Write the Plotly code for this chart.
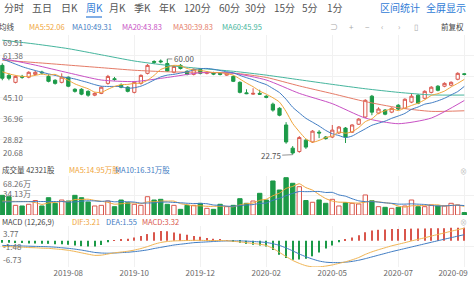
import plotly.graph_objects as go

W, H = 474, 285

# ---------------- data ----------------
idx = list(range(71))  # weekly candles

opens = [57.5, 53.6, 50.9, 53.2, 52.9, 54.0, 54.9, 53.2, 51.7, 50.9,
         52.9, 48.2, 48.2, 47.4, 45.9, 46.6, 50.5, 52.3, 49.8, 49.0,
         47.0, 50.5, 54.4, 59.0, 59.2, 58.2, 54.8, 57.5, 55.2, 54.0,
         55.9, 54.4, 54.6, 54.4, 53.7, 53.2, 50.9, 46.8, 46.3, 46.6,
         45.5, 42.4, 40.8, 34.3, 25.3, 24.0, 28.4, 27.7, 31.5, 29.6,
         29.6, 31.2, 33.1, 31.5, 34.6, 37.4, 45.5, 38.9, 40.1, 39.3,
         42.0, 40.8, 43.2, 45.9, 44.7, 47.0, 49.4, 49.4, 49.8, 52.1,
         54.2]
highs = [58.3, 54.4, 53.6, 53.8, 55.2, 55.4, 55.4, 54.0, 52.1, 54.4,
         53.2, 48.6, 48.6, 47.8, 47.0, 49.4, 53.8, 53.0, 50.5, 49.4,
         51.3, 54.0, 58.0, 59.5, 59.8, 60.0, 57.5, 58.0, 55.6, 56.3,
         56.3, 55.2, 55.0, 54.8, 54.8, 53.6, 51.3, 48.2, 48.6, 48.0,
         45.9, 43.0, 41.2, 35.4, 26.1, 30.0, 28.8, 32.3, 32.3, 30.0,
         34.3, 33.9, 33.5, 34.6, 37.0, 44.3, 46.0, 41.2, 40.5, 41.2,
         42.4, 44.7, 46.6, 46.3, 47.8, 49.4, 49.8, 50.9, 51.3, 54.8,
         54.4]
lows = [51.7, 51.7, 50.5, 52.3, 52.5, 53.6, 54.0, 50.9, 50.0, 50.5,
        49.0, 46.9, 45.9, 45.3, 45.5, 46.3, 50.0, 51.5, 48.6, 47.0,
        46.6, 50.0, 54.0, 58.0, 58.3, 55.0, 54.4, 55.9, 53.6, 53.6,
        54.0, 54.0, 53.7, 53.6, 53.4, 51.0, 46.6, 46.3, 46.0, 46.0,
        44.7, 39.5, 37.7, 27.0, 22.75, 23.5, 25.0, 27.3, 29.2, 28.6,
        29.2, 30.8, 27.3, 31.2, 34.3, 37.0, 38.1, 38.5, 38.1, 38.9,
        40.1, 40.5, 42.8, 42.4, 44.3, 46.6, 47.4, 49.0, 49.4, 51.7,
        53.6]
closes = [52.5, 52.5, 53.2, 52.9, 54.8, 54.8, 54.6, 51.3, 50.5, 52.9,
          49.4, 47.4, 46.3, 45.9, 46.6, 49.0, 53.2, 52.0, 49.0, 47.4,
          50.9, 53.6, 57.5, 58.7, 58.9, 55.3, 57.1, 56.3, 54.0, 56.0,
          54.4, 54.8, 54.1, 54.0, 54.4, 51.3, 47.0, 46.5, 46.6, 46.3,
          45.1, 40.1, 38.1, 27.7, 23.4, 29.4, 25.7, 31.9, 31.2, 29.0,
          32.3, 33.5, 29.6, 34.3, 36.6, 43.9, 39.3, 40.5, 38.5, 40.8,
          40.5, 44.3, 45.5, 42.8, 47.4, 49.0, 47.8, 50.5, 50.9, 54.4,
          54.0]

ma5 = [55.0, 54.2, 53.6, 53.2, 53.2, 53.6, 54.1, 53.7, 54.0, 52.8,
       51.7, 50.3, 49.3, 48.4, 47.1, 47.0, 48.2, 49.3, 50.0, 50.1,
       50.5, 50.6, 51.7, 53.6, 55.9, 56.8, 57.5, 57.3, 56.3, 55.7,
       55.6, 55.1, 54.7, 54.7, 54.3, 53.7, 52.2, 50.6, 49.2, 47.5,
       46.3, 44.9, 43.2, 39.5, 34.9, 31.7, 28.9, 27.6, 28.3, 29.4,
       30.0, 31.6, 31.1, 31.7, 33.3, 35.6, 36.7, 38.9, 39.8, 40.6,
       39.9, 40.9, 41.9, 42.8, 44.1, 45.8, 46.5, 47.5, 49.1, 50.5,
       52.06]
ma10 = [60.0, 59.0, 58.0, 57.0, 56.2, 55.5, 54.8, 54.2, 53.6, 53.0,
        52.7, 52.2, 51.5, 50.8, 50.0, 49.4, 49.3, 49.3, 49.2, 48.6,
        48.8, 49.4, 50.5, 51.8, 53.0, 53.7, 54.0, 54.5, 55.0, 55.8,
        56.2, 56.3, 56.0, 55.5, 55.0, 54.6, 53.6, 52.7, 51.9, 50.9,
        50.0, 48.5, 46.9, 44.3, 41.2, 39.0, 36.9, 35.4, 33.9, 32.2,
        30.9, 30.2, 29.4, 30.0, 31.4, 32.8, 34.2, 35.0, 35.8, 36.9,
        37.8, 38.8, 40.4, 41.3, 42.4, 42.9, 43.7, 44.7, 46.0, 47.3,
        49.31]

slow_idx = list(range(0, 71, 5))
ma20 = [60.2, 57.6, 54.6, 51.8, 51.2, 52.8, 54.6, 54.4, 51.8, 46.6,
        42.6, 37.0, 34.8, 37.0, 43.83]
ma30 = [59.5, 58.6, 57.6, 56.6, 55.6, 55.0, 54.8, 54.5, 52.8, 49.5,
        46.5, 43.4, 41.0, 39.6, 39.83]
ma60 = [67.3, 65.8, 64.0, 61.6, 59.2, 57.5, 56.3, 55.2, 53.7, 51.9,
        50.1, 48.4, 47.0, 46.0, 45.95]

volume = [34.0, 31.6, 16.7, 15.6, 18.5, 25.0, 15.6, 29.9, 20.2, 25.9,
          24.2, 34.0, 29.9, 22.5, 15.6, 16.7, 24.2, 14.4, 25.9, 21.3,
          18.5, 16.7, 31.6, 25.9, 27.1, 18.5, 16.7, 9.8, 16.7, 16.7,
          20.2, 11.5, 9.8, 18.5, 14.4, 16.7, 28.2, 20.2, 24.2, 37.5,
          25.9, 58.8, 43.2, 64.5, 54.8, 48.9, 25.0, 22.0, 26.0, 20.2,
          27.1, 15.6, 21.3, 20.2, 19.0, 34.6, 24.7, 14.4, 13.3, 11.5,
          13.3, 15.6, 25.9, 14.4, 14.4, 17.3, 15.6, 15.6, 20.2, 17.3,
          4.23]
vol_ma5 = [24.0, 23.8, 23.5, 23.4, 23.3, 21.5, 18.3, 20.9, 21.8, 23.3,
           23.2, 26.8, 26.8, 27.3, 25.2, 23.7, 21.8, 18.7, 19.4, 20.5,
           20.9, 19.4, 22.8, 22.8, 24.0, 24.0, 24.0, 19.6, 17.8, 15.7,
           16.0, 15.0, 15.0, 15.3, 14.9, 14.2, 17.5, 19.6, 20.7, 25.4,
           27.2, 33.3, 37.9, 46.0, 49.4, 54.0, 47.3, 43.0, 35.3, 28.4,
           24.1, 22.2, 22.0, 20.9, 20.6, 22.1, 24.0, 22.6, 21.2, 19.7,
           15.4, 13.6, 15.9, 16.1, 16.7, 17.5, 17.5, 15.5, 16.6, 17.2,
           14.95]
vol_ma10 = [22.5, 22.7, 22.9, 23.0, 23.1, 23.2, 23.3, 23.3, 23.3, 23.3,
            22.3, 22.6, 23.9, 24.6, 24.3, 23.5, 24.3, 22.8, 23.3, 22.9,
            22.3, 20.6, 20.7, 21.1, 22.2, 22.4, 21.7, 21.2, 20.3, 19.8,
            20.0, 19.5, 17.3, 16.6, 15.3, 15.1, 16.3, 17.3, 18.0, 20.1,
            20.7, 25.4, 28.8, 33.4, 37.4, 40.6, 40.3, 40.5, 40.7, 38.9,
            39.1, 34.7, 32.5, 28.1, 24.5, 23.1, 23.1, 22.3, 21.0, 20.2,
            18.8, 18.8, 19.3, 18.7, 18.2, 16.5, 15.6, 15.7, 16.4, 17.0,
            16.31]

macd_hist = [-0.5, -0.5, -0.6, -0.6, -0.7, -0.7, -0.8, -0.8, -0.9, -0.9,
             -1.0, -1.2, -1.4, -1.5, -1.5, -1.1, -0.4, 0.1, 0.3, 0.5,
             0.8, 1.2, 1.7, 2.2, 2.5, 2.4, 2.1, 1.8, 1.5, 1.2,
             1.0, 0.7, 0.5, 0.3, 0.1, -0.2, -0.5, -0.8, -1.0, -1.2,
             -1.5, -2.4, -3.6, -4.4, -4.9, -4.8, -4.6, -4.0, -3.0, -2.0,
             -1.2, -0.4, 0.2, 0.8, 1.4, 2.2, 2.6, 2.8, 2.9, 3.0,
             3.0, 3.0, 3.1, 3.1, 3.1, 3.2, 3.2, 3.2, 3.3, 3.3,
             3.32]
dea = [-1.2, -1.25, -1.3, -1.35, -1.4, -1.45, -1.5, -1.55, -1.65, -1.8,
       -1.95, -2.15, -2.4, -2.7, -3.0, -3.15, -3.2, -3.15, -3.05, -2.95,
       -2.8, -2.6, -2.35, -2.0, -1.7, -1.4, -1.1, -0.9, -0.7, -0.5,
       -0.4, -0.3, -0.2, -0.1, -0.05, -0.05, -0.05, -0.1, -0.2, -0.3,
       -0.45, -0.75, -1.2, -1.85, -2.6, -3.4, -4.1, -4.7, -5.2, -5.5,
       -5.6, -5.6, -5.5, -5.3, -5.0, -4.6, -4.15, -3.7, -3.25, -2.8,
       -2.4, -2.0, -1.6, -1.2, -0.8, -0.4, 0.0, 0.4, 0.78, 1.17,
       1.55]
dif = [-1.45, -1.5, -1.6, -1.65, -1.75, -1.8, -1.9, -1.95, -2.1, -2.25,
       -2.45, -2.75, -3.1, -3.45, -3.75, -3.7, -3.4, -3.1, -2.9, -2.7,
       -2.4, -2.0, -1.5, -0.9, -0.45, -0.2, -0.05, 0.0, 0.05, 0.1,
       0.1, 0.05, 0.05, 0.05, 0.0, -0.15, -0.3, -0.5, -0.7, -0.9,
       -1.2, -1.95, -3.0, -4.05, -5.05, -5.8, -6.4, -6.7, -6.7, -6.5,
       -6.2, -5.8, -5.4, -4.9, -4.3, -3.5, -2.85, -2.3, -1.8, -1.3,
       -0.9, -0.5, -0.05, 0.35, 0.75, 1.2, 1.6, 2.0, 2.43, 2.82,
       3.21]

x_tick_idx = [10, 20, 30, 40, 50, 60, 70]
x_tick_text = ["2019-08", "2019-10", "2019-12", "2020-02", "2020-05", "2020-07", "2020-09"]
price_ticks = [69.51, 61.38, 53.24, 45.10, 36.96, 28.82, 20.68]
price_tick_text = ["69.51", "61.38", "", "45.10", "36.96", "28.82", "20.68"]
vol_ticks = [68.26, 34.13]
vol_tick_text = ["68.26万", "34.13万"]
macd_ticks = [3.77, -1.48, -6.73]
macd_tick_text = ["3.77", "-1.48", "-6.73"]

tabs = ["分时", "五日", "日K", "周K", "月K", "季K", "年K", "120分", "60分", "30分", "15分", "5分", "1分"]
ma_labels = ["MA5:52.06", "MA10:49.31", "MA20:43.83", "MA30:39.83", "MA60:45.95"]

# ---------------- styling ----------------
FONT = "Noto Sans CJK SC, Noto Sans, sans-serif"
RED = "#d9564c"
GREEN = "#1c9a48"
C_MA5 = "#f0a53a"
C_MA10 = "#3f7cc3"
C_MA20 = "#c850c4"
C_MA30 = "#e57b67"
C_MA60 = "#45b59d"
BLUE_UI = "#2f7bd6"
GRID = "#f1f1f1"
LABEL = "#6a6a6a"


def px(x):
    return x / W


def py(y):
    return 1 - y / H


fig = go.Figure()

# price panel
fig.add_trace(go.Candlestick(
    x=idx, open=opens, high=highs, low=lows, close=closes,
    increasing=dict(line=dict(color=RED, width=1), fillcolor="white"),
    decreasing=dict(line=dict(color=GREEN, width=1), fillcolor=GREEN),
    whiskerwidth=0, xaxis="x", yaxis="y", hoverinfo="skip", showlegend=False))

for series, xs, color in [(ma60, slow_idx, C_MA60),
                          (ma30, slow_idx, C_MA30),
                          (ma20, slow_idx, C_MA20),
                          (ma10, idx, C_MA10),
                          (ma5, idx, C_MA5)]:
    fig.add_trace(go.Scatter(x=xs, y=series, mode="lines",
                             line=dict(color=color, width=1, shape="spline", smoothing=0.6),
                             xaxis="x", yaxis="y", hoverinfo="skip", showlegend=False))

# volume panel
up = [c >= o for o, c in zip(opens, closes)]
fig.add_trace(go.Bar(
    x=idx, y=volume, width=0.66,
    marker=dict(color=["white" if u else GREEN for u in up],
                line=dict(color=[RED if u else GREEN for u in up], width=1)),
    xaxis="x", yaxis="y2", hoverinfo="skip", showlegend=False))
fig.add_trace(go.Scatter(x=idx, y=vol_ma5, mode="lines",
                         line=dict(color=C_MA5, width=1, shape="spline", smoothing=0.5),
                         xaxis="x", yaxis="y2", hoverinfo="skip", showlegend=False))
fig.add_trace(go.Scatter(x=idx, y=vol_ma10, mode="lines",
                         line=dict(color=C_MA10, width=1, shape="spline", smoothing=0.5),
                         xaxis="x", yaxis="y2", hoverinfo="skip", showlegend=False))

# MACD panel
fig.add_trace(go.Bar(
    x=idx, y=macd_hist, width=0.16,
    marker=dict(color=[RED if v >= 0 else GREEN for v in macd_hist], line=dict(width=0)),
    xaxis="x", yaxis="y3", hoverinfo="skip", showlegend=False))
fig.add_trace(go.Scatter(x=idx, y=dea, mode="lines",
                         line=dict(color=C_MA10, width=1, shape="spline", smoothing=0.5),
                         xaxis="x", yaxis="y3", hoverinfo="skip", showlegend=False))
fig.add_trace(go.Scatter(x=idx, y=dif, mode="lines",
                         line=dict(color="#f0b452", width=1, shape="spline", smoothing=0.5),
                         xaxis="x", yaxis="y3", hoverinfo="skip", showlegend=False))

ann = []


def text(x, y, s, color="#444", size=8, anchor="left", **kw):
    ann.append(dict(x=px(x), y=py(y), xref="paper", yref="paper", text=s,
                    showarrow=False, xanchor=anchor, yanchor="middle",
                    font=dict(family=FONT, size=size, color=color), **kw))


# toolbar
tab_x = [14, 42, 69, 94, 117, 142, 167, 197, 229, 255, 284, 310, 335]
for t, xc in zip(tabs, tab_x):
    text(xc, 8, t, color=BLUE_UI if t == "周K" else "#555", size=10, anchor="center")
text(400, 8, "区间统计", color=BLUE_UI, size=10, anchor="center")
text(446, 8, "全屏显示", color=BLUE_UI, size=10, anchor="center")

# MA header
text(-3, 26, "均线", color="#444", size=7.5)
for lab, xl, col in zip(ma_labels, [27, 70, 120, 171, 220], [C_MA5, C_MA10, C_MA20, C_MA30, C_MA60]):
    text(xl, 26, lab, color=col, size=7.5)
for sym, xc in zip(["⊃", "+", "−", "‹", "›", "▯"], [334, 351, 367, 382, 399, 416]):
    text(xc, 26, sym, color="#aaaaaa", size=8, anchor="center")
text(452, 26, "前复权", color="#444", size=7.5, anchor="center")

# volume header
text(0, 169, "成交量 42321股", color="#444", size=7.5)
text(67, 169, "MA5:14.95万股", color=C_MA5, size=7.5)
text(113, 169, "MA10:16.31万股", color=C_MA10, size=7.5)
text(463, 171, "⊗", color="#bbbbbb", size=7, anchor="center")

# MACD header
text(0, 221, "MACD (12,26,9)", color="#444", size=7.5)
text(70, 221, "DIF:3.21", color="#f0a53a", size=7.5)
text(104, 221, "DEA:1.55", color=C_MA10, size=7.5)
text(140, 221, "MACD:3.32", color=RED, size=7.5)
text(463, 222, "⊗", color="#bbbbbb", size=7, anchor="center")


# axis value labels (inside, left)
def axis_labels(vals, labels, yref):
    n = len(vals)
    for i, (v, s) in enumerate(zip(vals, labels)):
        if not s:
            continue
        anc = "top" if i == 0 else ("bottom" if i == n - 1 else "middle")
        ann.append(dict(x=0.002, y=v, xref="paper", yref=yref, text=s, showarrow=False,
                        xanchor="left", yanchor=anc,
                        font=dict(family=FONT, size=8, color=LABEL)))


axis_labels(price_ticks, price_tick_text, "y")
axis_labels(vol_ticks, vol_tick_text, "y2")
ann[-1]["yanchor"] = "middle"
ann[-1]["yshift"] = 2
axis_labels(macd_ticks, macd_tick_text, "y3")

# extreme price markers
hi_i = max(idx, key=lambda i: highs[i])
lo_i = min(idx, key=lambda i: lows[i])
ann.append(dict(x=hi_i, y=highs[hi_i], xref="x", yref="y", text=f"{highs[hi_i]:.2f}",
                showarrow=True, arrowhead=0, arrowwidth=0.8, arrowcolor="#777",
                ax=17, ay=0, font=dict(family=FONT, size=8, color="#555")))
ann.append(dict(x=lo_i, y=lows[lo_i], xref="x", yref="y", text=f"{lows[lo_i]:.2f}",
                showarrow=True, arrowhead=0, arrowwidth=0.8, arrowcolor="#777",
                ax=-22, ay=1, font=dict(family=FONT, size=8, color="#555")))

shapes = [dict(type="line", xref="paper", yref="paper", x0=px(86), x1=px(102),
               y0=py(17), y1=py(17), line=dict(color=BLUE_UI, width=1.2))]

tick_pos = x_tick_idx[:-1] + [68.3]

fig.update_layout(
    width=W, height=H, margin=dict(l=0, r=0, t=0, b=0),
    paper_bgcolor="white", plot_bgcolor="white",
    showlegend=False, hovermode=False, barmode="overlay",
    font=dict(family=FONT, size=8, color=LABEL),
    annotations=ann, shapes=shapes,
    xaxis=dict(domain=[0, 1], range=[-0.35, 71.47], anchor="y3",
               tickmode="array", tickvals=tick_pos, ticktext=x_tick_text,
               ticks="", showgrid=False, zeroline=False, showline=False,
               tickfont=dict(family=FONT, size=8, color=LABEL),
               minor=dict(tickmode="array", tickvals=x_tick_idx, showgrid=True,
                          gridcolor=GRID, gridwidth=1, ticks=""),
               rangeslider=dict(visible=False), fixedrange=True),
    yaxis=dict(domain=[py(160), py(34.5)], range=[20.68, 69.51],
               tickmode="array", tickvals=price_ticks, showticklabels=False,
               gridcolor=GRID, zeroline=False, showline=False, ticks="", fixedrange=True),
    yaxis2=dict(domain=[py(215), py(175.5)], range=[0, 68.26],
                tickmode="array", tickvals=vol_ticks, showticklabels=False,
                gridcolor=GRID, zeroline=False, showline=False, ticks="", fixedrange=True),
    yaxis3=dict(domain=[py(267), py(226)], range=[-6.73, 3.77],
                tickmode="array", tickvals=macd_ticks, showticklabels=False,
                gridcolor=GRID, zeroline=False, showline=False, ticks="", fixedrange=True),
)

fig.write_html("out.html")
